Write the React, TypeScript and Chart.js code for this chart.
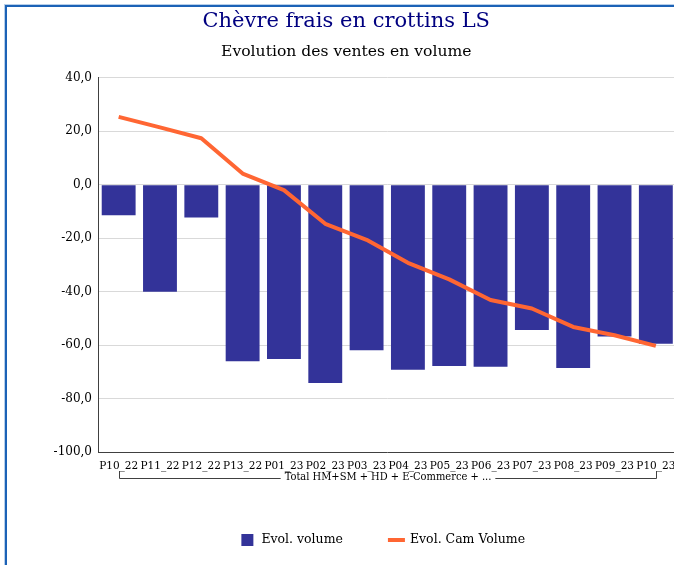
import React, { useEffect, useRef } from 'react';
import { Chart, registerables } from 'chart.js';

Chart.register(...registerables);

// ---- Data ----
const categories = ['P10_22', 'P11_22', 'P12_22', 'P13_22', 'P01_23', 'P02_23', 'P03_23', 'P04_23', 'P05_23', 'P06_23', 'P07_23', 'P08_23', 'P09_23', 'P10_23'];
const evolVolume = [-11.4, -40.0, -12.2, -66.0, -65.2, -74.2, -61.9, -69.2, -67.8, -68.1, -54.3, -68.6, -56.8, -59.5];
const evolCamVolume = [25.4, 21.5, 17.4, 4.2, -2.0, -14.6, -20.6, -29.2, -35.4, -43.1, -46.3, -53.2, -56.3, -60.3];
const yMin = -100;
const yMax = 40;
const yStep = 20;
const groupLabel = 'Total HM+SM + HD + E-Commerce + ...';
const titleText = 'Chèvre frais en crottins LS';
const subtitleText = 'Evolution des ventes en volume';
const legendLabels = ['Evol. volume', 'Evol. Cam Volume'];

// ---- Style ----
const SERIF = '"DejaVu Serif", serif';
const SERIF_COND = '"DejaVu Serif Condensed", "DejaVu Serif", serif';
const BAR = '#333399';
const LINE = '#ff6633';
const AXIS = '#404040';
const GRID = '#d9d9d9';

const fmt = (v: number | string) => Number(v).toFixed(1).replace('.', ',');

const bracketPlugin = {
  id: 'bracket',
  afterDraw(chart: any) {
    const { ctx, chartArea } = chart;
    const x = chart.scales.x;
    const x0 = Math.round(x.getPixelForValue(0)) + 0.5;
    const x1 = Math.round(x.getPixelForValue(categories.length - 1)) + 0.5;
    const yLine = Math.round(chartArea.bottom + 26) + 0.5;
    const yTop = chartArea.bottom + 19;
    ctx.save();
    ctx.font = `11px ${SERIF_COND}`;
    const w = ctx.measureText(groupLabel).width;
    const mid = (x0 + x1) / 2;
    ctx.strokeStyle = AXIS;
    ctx.lineWidth = 1;
    ctx.beginPath();
    ctx.moveTo(x0, yTop);
    ctx.lineTo(x0, yLine);
    ctx.lineTo(mid - w / 2 - 4, yLine);
    ctx.moveTo(mid + w / 2 + 4, yLine);
    ctx.lineTo(x1, yLine);
    ctx.lineTo(x1, yTop);
    ctx.stroke();
    ctx.fillStyle = '#000';
    ctx.textAlign = 'center';
    ctx.textBaseline = 'middle';
    ctx.fillText(groupLabel, mid, yLine - 1);
    ctx.restore();
  },
};

const legendPlugin = {
  id: 'customLegend',
  afterDraw(chart: any) {
    const { ctx, chartArea } = chart;
    ctx.save();
    ctx.font = `12.5px ${SERIF}`;
    const w0 = ctx.measureText(legendLabels[0]).width;
    const w1 = ctx.measureText(legendLabels[1]).width;
    const total = 12 + 8 + w0 + 45 + 17 + 5 + w1;
    const cx = (chartArea.left + chartArea.right) / 2 - 4;
    let xPos = cx - total / 2;
    const y = chartArea.bottom + 88;
    ctx.fillStyle = BAR;
    ctx.fillRect(xPos, y - 6, 12, 12);
    xPos += 20;
    ctx.fillStyle = '#000';
    ctx.textAlign = 'left';
    ctx.textBaseline = 'middle';
    ctx.fillText(legendLabels[0], xPos, y);
    xPos += w0 + 45;
    ctx.strokeStyle = LINE;
    ctx.lineWidth = 4;
    ctx.beginPath();
    ctx.moveTo(xPos, y);
    ctx.lineTo(xPos + 17, y);
    ctx.stroke();
    xPos += 22;
    ctx.fillText(legendLabels[1], xPos, y);
    ctx.restore();
  },
};

export default function App() {
  const ref = useRef<HTMLCanvasElement>(null);

  useEffect(() => {
    const canvas = ref.current;
    if (!canvas) return;
    const chart = new Chart(canvas, {
      type: 'bar',
      data: {
        labels: categories,
        datasets: [
          {
            type: 'line',
            label: legendLabels[1],
            data: evolCamVolume,
            borderColor: LINE,
            backgroundColor: LINE,
            borderWidth: 4,
            pointRadius: 0,
            tension: 0,
            borderJoinStyle: 'round',
            order: 0,
          } as any,
          {
            type: 'bar',
            label: legendLabels[0],
            data: evolVolume,
            backgroundColor: BAR,
            categoryPercentage: 1,
            barPercentage: 0.82,
            order: 1,
          } as any,
        ],
      },
      options: {
        responsive: false,
        animation: false,
        devicePixelRatio: 1,
        layout: { padding: { left: 9, right: 10.5, top: 0, bottom: 68 } },
        plugins: {
          legend: { display: false },
          tooltip: { enabled: false },
          title: {
            display: true,
            text: titleText,
            color: '#000080',
            font: { family: SERIF, size: 21, weight: 'normal' },
            padding: { top: 2, bottom: 3 },
          },
          subtitle: {
            display: true,
            text: subtitleText,
            color: '#000',
            font: { family: SERIF, size: 15.6, weight: 'normal' },
            padding: { top: 5, bottom: 17 },
          },
        },
        scales: {
          x: {
            grid: { display: false, drawTicks: false },
            border: { display: true, color: AXIS, width: 1 },
            ticks: {
              font: { family: SERIF, size: 10.5 },
              color: '#000',
              padding: 8,
              maxRotation: 0,
              autoSkip: false,
            },
            afterFit: (s: any) => {
              s.height = 45;
            },
          },
          y: {
            min: yMin,
            max: yMax,
            ticks: {
              stepSize: yStep,
              callback: (v: any) => fmt(v),
              font: { family: SERIF, size: 12 },
              color: '#000',
              padding: 6,
            },
            grid: { color: GRID, drawTicks: false },
            border: { display: true, color: AXIS, width: 1 },
            afterFit: (s: any) => {
              s.width = 82;
            },
          },
        },
      } as any,
      plugins: [bracketPlugin, legendPlugin],
    });
    return () => chart.destroy();
  }, []);

  return (
    <div
      style={{
        position: 'fixed',
        left: 0,
        top: 0,
        width: 674,
        height: 565,
        overflow: 'hidden',
        background: '#fff',
      }}
    >
      <div
        style={{
          position: 'absolute',
          left: 5,
          top: 5,
          width: 700,
          height: 620,
          borderLeft: '2px solid #1c62b6',
          borderTop: '2px solid #1c62b6',
          boxShadow: '-1px -1px 0 #b7cfea',
        }}
      />
      <canvas
        ref={ref}
        width={680}
        height={558}
        style={{ position: 'absolute', left: 7, top: 7, width: 680, height: 558 }}
      />
    </div>
  );
}
